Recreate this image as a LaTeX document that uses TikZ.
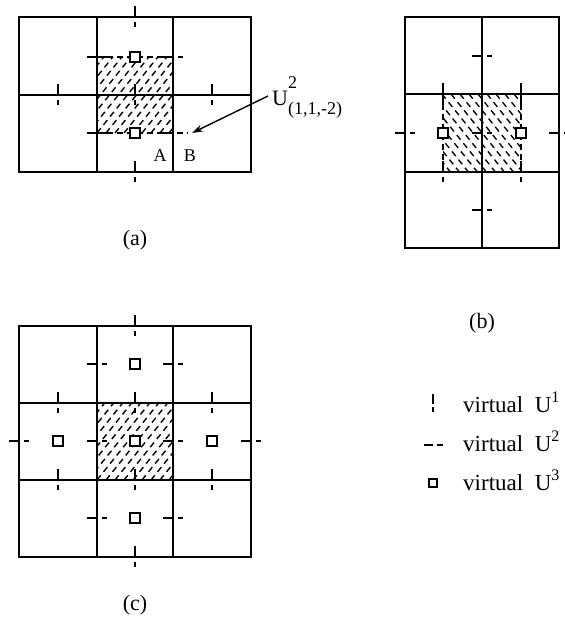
\documentclass[tikz,border=0pt]{standalone}
\usepackage{fontspec}
\setmainfont{Liberation Serif}
\usetikzlibrary{arrows.meta}
\tikzset{
  grid/.style={line width=1.8pt},
  mk/.style={line width=1.5pt},
  hatch/.style={line width=1.4pt, dash pattern=on 6pt off 4.5pt},
  bnd/.style={line width=1.5pt, dash pattern=on 6pt off 4pt},
  sq/.style={line width=1.5pt, fill=white},
  lbl/.style={font=\fontsize{18}{20}\selectfont, inner sep=0pt},
  big/.style={font=\fontsize{22}{24}\selectfont, inner sep=0pt},
  leg/.style={font=\fontsize{23}{25}\selectfont, inner sep=0pt},
}
\begin{document}
\begin{tikzpicture}[x=1pt,y=-1pt]
\useasboundingbox (0,0) rectangle (565,643);
% ---------- (a) ----------
\begin{scope}
  \clip (97,57) rectangle (173,133);
  \foreach \c in {16,25,...,173} \draw[hatch] (\c,133) -- ++(72,-90);
\end{scope}
\draw[bnd] (97,57) -- (173,57);
\draw[bnd] (97,133) -- (188,133);
\draw[grid] (19,17) rectangle (251,172);
\draw[grid] (97,17) -- (97,172) (173,17) -- (173,172) (19,95) -- (251,95);
\foreach \x/\y in {135/17,58/95,135/95,212/95,135/172}
  \draw[mk] (\x,\y-11) -- (\x,\y) (\x,\y+5) -- (\x,\y+10);
\foreach \x/\y in {97/57,173/57,97/133,173/133}
  \draw[mk] (\x-10,\y) -- (\x,\y) (\x+5,\y) -- (\x+10,\y);
\foreach \x/\y in {135/57,135/133}
  \draw[sq] (\x-5,\y-5) rectangle (\x+5,\y+5);
\node[lbl] (A) at (160,156) {A};
\node[lbl] (B) at (190,156) {B};
\node[big, anchor=base west] (ulab) at (272,105)
  {U\rlap{\raisebox{17pt}{\fontsize{18}{18}\selectfont 2}}\raisebox{-9pt}{\fontsize{18}{18}\selectfont (1,1,-2)}};
\coordinate (astart) at (268,96);
\coordinate (atip) at (192,133);
\draw[line width=1.4pt, -{Stealth[length=11pt,width=7pt]}] (astart) -- (atip);
\node[big] (la) at (135,240) {(a)};
% ---------- (b) ----------
\begin{scope}
  \clip (443,94) rectangle (521,172);
  \foreach \c in {352,361,...,521} \draw[hatch] (\c,94) -- ++(72,90);
\end{scope}
\draw[bnd] (443,94) -- (443,172);
\draw[bnd] (521,94) -- (521,172);
\draw[grid] (405,17) rectangle (559,248);
\draw[grid] (482,17) -- (482,248) (405,94) -- (559,94) (405,172) -- (559,172);
\foreach \x/\y in {443/94,521/94,443/172,521/172}
  \draw[mk] (\x,\y-11) -- (\x,\y) (\x,\y+5) -- (\x,\y+10);
\foreach \x/\y in {482/56,482/210,405/133,482/133,559/133}
  \draw[mk] (\x-10,\y) -- (\x,\y) (\x+5,\y) -- (\x+10,\y);
\foreach \x/\y in {443/133,521/133}
  \draw[sq] (\x-5,\y-5) rectangle (\x+5,\y+5);
\node[big] (lb) at (482,323) {(b)};
% ---------- (c) ----------
\begin{scope}
  \clip (97,403) rectangle (173,480);
  \foreach \c in {16,25,...,173} \draw[hatch] (\c,480) -- ++(72,-90);
\end{scope}
\draw[grid] (19,326) rectangle (251,557);
\draw[grid] (97,326) -- (97,557) (173,326) -- (173,557) (19,403) -- (251,403) (19,480) -- (251,480);
\foreach \x/\y in {135/326,58/403,135/403,212/403,58/480,135/480,212/480,135/557}
  \draw[mk] (\x,\y-11) -- (\x,\y) (\x,\y+5) -- (\x,\y+10);
\foreach \x/\y in {97/364,173/364,19/441,97/441,173/441,251/441,97/518,173/518}
  \draw[mk] (\x-10,\y) -- (\x,\y) (\x+5,\y) -- (\x+10,\y);
\foreach \x/\y in {135/364,58/441,135/441,212/441,135/518}
  \draw[sq] (\x-5,\y-5) rectangle (\x+5,\y+5);
\node[big] (lc) at (135,605) {(c)};
% ---------- legend ----------
\draw[mk] (433,394) -- (433,404) (433,407) -- (433,412);
\draw[mk] (424,445) -- (433,445) (437,445) -- (443,445);
\draw[sq] (429,479) rectangle (437,487);
\node[leg, anchor=base west] (l1) at (463,412) {virtual\ \ U\textsuperscript{1}};
\node[leg, anchor=base west] (l2) at (463,451) {virtual\ \ U\textsuperscript{2}};
\node[leg, anchor=base west] (l3) at (463,490) {virtual\ \ U\textsuperscript{3}};
\end{tikzpicture}
\end{document}
